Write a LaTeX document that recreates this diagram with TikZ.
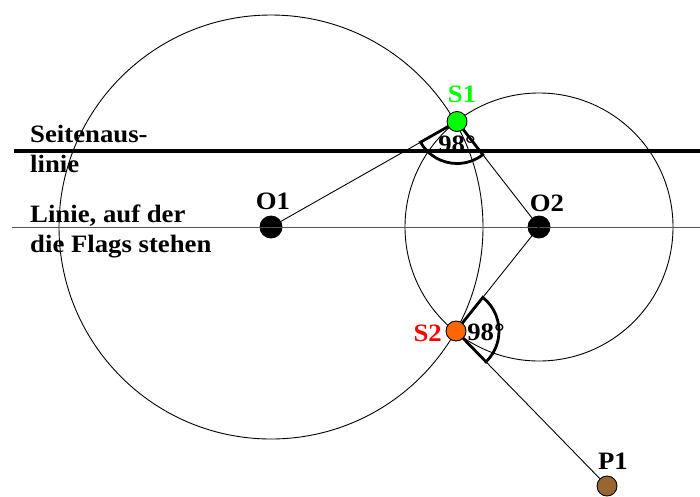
\documentclass[tikz,border=0pt]{standalone}
\usepackage{fontspec}
\setmainfont{Liberation Serif}[FakeStretch=1.07]
\usetikzlibrary{calc,positioning}

\begin{document}
\begin{tikzpicture}[x=1pt,y=1pt,font=\fontsize{25}{30}\selectfont\bfseries,
  dot/.style={circle,draw=black,line width=0.9pt,inner sep=0pt,outer sep=0pt,minimum size=20pt},
  lbl/.style={inner sep=0pt},
  wedge/.style={line width=2.8pt,line join=miter}]
\definecolor{sonegreen}{RGB}{0,255,0}
\definecolor{stwoorange}{RGB}{255,102,0}
\definecolor{stwored}{RGB}{255,0,0}
\definecolor{ponebrown}{RGB}{153,102,51}
\definecolor{flagline}{RGB}{85,85,85}

\useasboundingbox (0,0) rectangle (700,-496);

% Pixel coordinates of the reference, y pointing down as negative values.
\node[dot,fill=black,minimum size=22pt] (O1) at (271,-227) {};
\node[dot,fill=black,minimum size=22pt] (O2) at (539,-227) {};
\coordinate (S1pos) at (457,-121.5);
\coordinate (S2pos) at (456,-331);
\coordinate (P1pos) at (607,-486);
\coordinate (sideL) at (14,-151);
\coordinate (sideR) at (700,-151);
\coordinate (flagL) at (12,-227);
\coordinate (flagR) at (700,-227);

% The two circles.
\draw[line width=0.9pt] (O1.center) circle[radius=212];
\draw[line width=0.9pt] (O2.center) circle[radius=134];

% Side line and the line the flags stand on.
\draw[line width=4pt] (sideL)--(sideR);
\draw[flagline,line width=1pt] (flagL)--(flagR);

% Radii to the intersections and the line to P1.
\draw[line width=0.9pt] (O1.center)--(S1pos)--(O2.center)--(S2pos)--(P1pos);

% Angle wedges.
\draw[wedge] let \p1=($(O1)-(S1pos)$), \p2=($(O2)-(S1pos)$),
  \n1={atan2(\y1,\x1)}, \n2={atan2(\y2,\x2)} in
  (S1pos) -- ++(\n1:42) arc[start angle=\n1,end angle=\n2,radius=42] -- cycle;
\draw[wedge] let \p1=($(O2)-(S2pos)$), \p2=($(P1pos)-(S2pos)$),
  \n1={atan2(\y1,\x1)}, \n2={atan2(\y2,\x2)} in
  (S2pos) -- ++(\n1:43) arc[start angle=\n1,end angle=\n2,radius=43] -- cycle;

% Intersection points and P1.
\node[dot,fill=sonegreen] (S1) at (S1pos) {};
\node[dot,fill=stwoorange] (S2) at (S2pos) {};
\node[dot,fill=ponebrown] (P1) at (P1pos) {};

% Point labels.
\node[lbl,above=6pt of O1,xshift=2pt] (O1lbl) {O1};
\node[lbl,above=4pt of O2,xshift=8pt] (O2lbl) {O2};
\node[lbl,above=9pt of S1,xshift=5pt,text=sonegreen] (S1lbl) {S1};
\node[lbl,left=4pt of S2,yshift=-2pt,text=stwored] (S2lbl) {S2};
\node[lbl,above=6pt of P1,xshift=6pt] (P1lbl) {P1};
\node[lbl] (A1lbl) at (457,-144) {98°};
\node[lbl] (A2lbl) at (486,-332) {98°};

% Texts on the left.
\node[lbl,anchor=north west,align=left] (sidetxt) at (30,-125)
  {Seitenaus-\\linie};
\node[lbl,anchor=north west,align=left] (flagtxt) at (30,-205)
  {Linie, auf der\\die Flags stehen};
\end{tikzpicture}
\end{document}
